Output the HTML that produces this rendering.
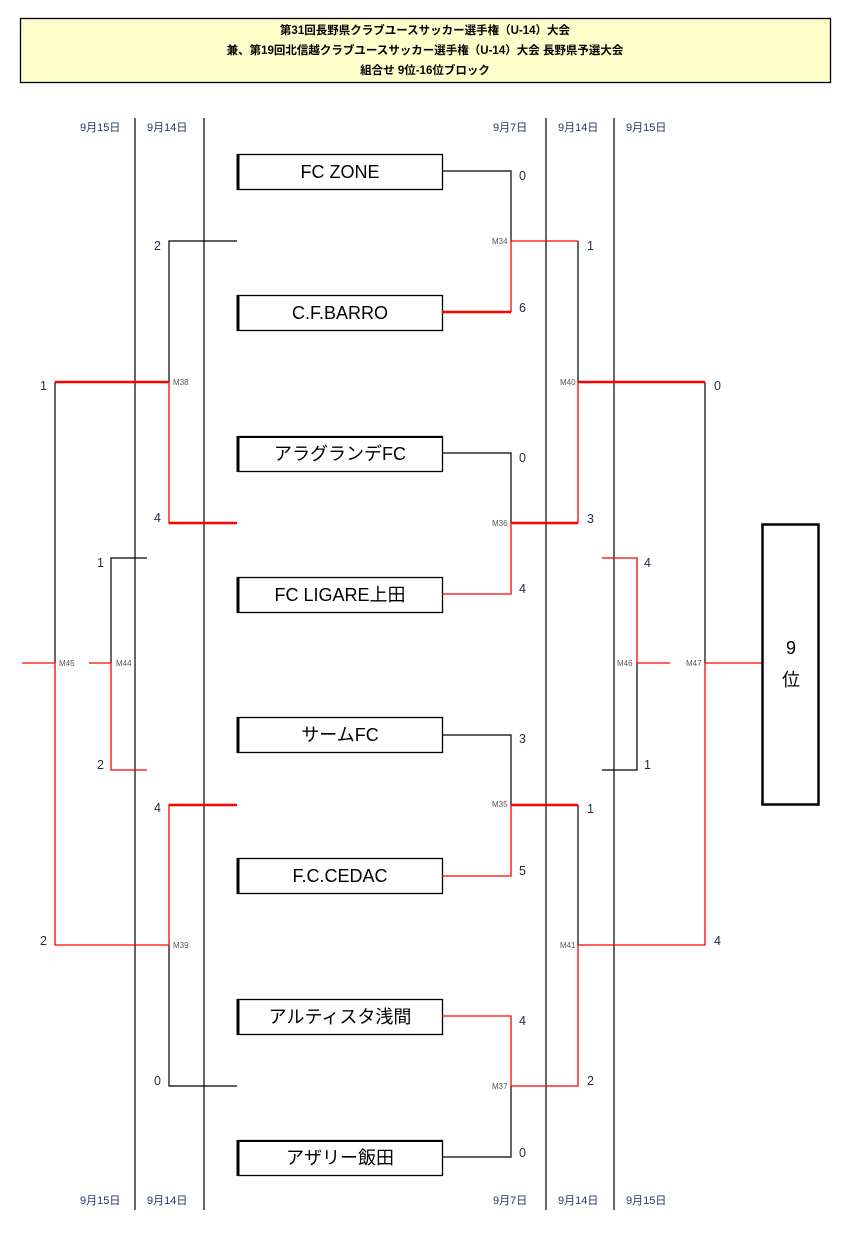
<!DOCTYPE html>
<html><head><meta charset="utf-8">
<style>
html,body{margin:0;padding:0;background:#fff;}
svg{display:block;}
text{font-family:"Liberation Sans","Noto Sans CJK JP",sans-serif;}
.h{font-size:11.5px;font-weight:bold;fill:#000;}
.d{font-size:11px;fill:#1f3864;}
.s{font-size:12.5px;fill:#1f2a44;}
.m{font-size:8px;fill:#555;}
.t{font-size:18px;fill:#000;}
</style></head><body>
<svg width="853" height="1240" viewBox="0 0 853 1240" xmlns="http://www.w3.org/2000/svg">
<rect x="20.5" y="18.5" width="810" height="64" fill="#ffffcc" stroke="#000" stroke-width="1.3"/>
<text class="h" x="425" y="34" text-anchor="middle">第31回長野県クラブユースサッカー選手権（U-14）大会</text>
<text class="h" x="425" y="54" text-anchor="middle">兼、第19回北信越クラブユースサッカー選手権（U-14）大会  長野県予選大会</text>
<text class="h" x="425" y="74" text-anchor="middle">組合せ  9位-16位ブロック</text>

<g class="d">
<text x="80" y="131">9月15日</text><text x="147" y="131">9月14日</text>
<text x="493" y="131">9月7日</text><text x="558" y="131">9月14日</text><text x="626" y="131">9月15日</text>
<text x="80" y="1204">9月15日</text><text x="147" y="1204">9月14日</text>
<text x="493" y="1204">9月7日</text><text x="558" y="1204">9月14日</text><text x="626" y="1204">9月15日</text>
</g>

<g stroke="#000" stroke-width="1.2">
<line x1="135" y1="118" x2="135" y2="1210"/>
<line x1="204" y1="118" x2="204" y2="1210"/>
<line x1="546" y1="118" x2="546" y2="1210"/>
<line x1="614" y1="118" x2="614" y2="1210"/>
</g>

<!-- team boxes -->
<g fill="#fff" stroke="#000" stroke-width="1.3">
<rect x="237.5" y="154.5" width="205" height="35"/>
<rect x="237.5" y="295.5" width="205" height="35"/>
<rect x="237.5" y="436.5" width="205" height="35"/>
<rect x="237.5" y="577.5" width="205" height="35"/>
<rect x="237.5" y="717.5" width="205" height="35"/>
<rect x="237.5" y="858.5" width="205" height="35"/>
<rect x="237.5" y="999.5" width="205" height="35"/>
<rect x="237.5" y="1140.5" width="205" height="35"/>
</g>
<g stroke="#000" stroke-width="3">
<line x1="238" y1="154" x2="238" y2="190"/><line x1="238" y1="295" x2="238" y2="331"/>
<line x1="238" y1="436" x2="238" y2="472"/><line x1="238" y1="577" x2="238" y2="613"/>
<line x1="238" y1="717" x2="238" y2="753"/><line x1="238" y1="858" x2="238" y2="894"/>
<line x1="238" y1="999" x2="238" y2="1035"/><line x1="238" y1="1140" x2="238" y2="1176"/>
<line x1="237" y1="437" x2="443" y2="437" stroke-width="2"/>
<line x1="237" y1="1141" x2="443" y2="1141" stroke-width="2"/>
</g>
<g class="t" text-anchor="middle">
<text x="340" y="178">FC ZONE</text>
<text x="340" y="319">C.F.BARRO</text>
<text x="340" y="460">アラグランデFC</text>
<text x="340" y="601">FC LIGARE上田</text>
<text x="340" y="741">サームFC</text>
<text x="340" y="882">F.C.CEDAC</text>
<text x="340" y="1023">アルティスタ浅間</text>
<text x="340" y="1164">アザリー飯田</text>
</g>

<!-- black lines -->
<g fill="none" stroke="#000" stroke-width="1.2">
<polyline points="442,171 511,171 511,241"/>
<polyline points="442,453 511,453 511,523"/>
<polyline points="442,735 511,735 511,805"/>
<polyline points="442,1157 511,1157 511,1086"/>
<polyline points="578,241 578,382"/>
<polyline points="578,805 578,945"/>
<polyline points="705,382 705,663"/>
<polyline points="237,241 169,241 169,382"/>
<polyline points="237,1086 169,1086 169,945"/>
<polyline points="55,382 55,663"/>
<polyline points="147,558 111,558 111,663"/>
<polyline points="602,770 637,770 637,663"/>
</g>
<!-- red lines -->
<g fill="none" stroke="#f00" stroke-width="1.3">
<polyline points="511,241 578,241"/>
<polyline points="442,312 511,312" stroke-width="2.5"/>
<polyline points="511,312 511,241"/>
<polyline points="442,594 511,594 511,523"/>
<polyline points="511,523 578,523" stroke-width="2.5"/>
<polyline points="578,523 578,382"/>
<polyline points="578,382 705,382" stroke-width="2.5"/>
<polyline points="442,876 511,876 511,805"/>
<polyline points="511,805 578,805" stroke-width="2.5"/>
<polyline points="442,1016 511,1016 511,1086 578,1086 578,945 705,945 705,663 762,663"/>
<polyline points="55,382 169,382" stroke-width="2.5"/>
<polyline points="237,523 169,523 169,382" />
<line x1="169" y1="523" x2="237" y2="523" stroke-width="2.5"/>
<polyline points="237,805 169,805 169,945 55,945 55,663 22,663"/>
<line x1="169" y1="805" x2="237" y2="805" stroke-width="2.5"/>
<polyline points="147,770 111,770 111,663 89,663"/>
<polyline points="602,558 637,558 637,663 670,663"/>
</g>

<!-- 9位 box -->
<rect x="762.5" y="524.5" width="56" height="280" fill="#fff" stroke="#000" stroke-width="2.5"/>
<text class="t" x="791" y="654" text-anchor="middle">9</text>
<text class="t" x="791" y="686" text-anchor="middle">位</text>

<!-- scores -->
<g class="s">
<text x="519" y="180">0</text><text x="519" y="312">6</text>
<text x="519" y="462">0</text><text x="519" y="593">4</text>
<text x="519" y="743">3</text><text x="519" y="875">5</text>
<text x="519" y="1025">4</text><text x="519" y="1157">0</text>
<text x="587" y="250">1</text><text x="587" y="523">3</text>
<text x="587" y="813">1</text><text x="587" y="1085">2</text>
<text x="714" y="390">0</text><text x="714" y="945">4</text>
<text x="644" y="567">4</text><text x="644" y="769">1</text>
<text x="154" y="250">2</text><text x="154" y="522">4</text>
<text x="154" y="812">4</text><text x="154" y="1085">0</text>
<text x="40" y="390">1</text><text x="40" y="945">2</text>
<text x="97" y="567">1</text><text x="97" y="769">2</text>
</g>
<!-- match labels -->
<g class="m">
<text x="492" y="244">M34</text><text x="492" y="526">M36</text>
<text x="492" y="807">M35</text><text x="492" y="1089">M37</text>
<text x="560" y="385">M40</text><text x="560" y="948">M41</text>
<text x="617" y="666">M46</text><text x="686" y="666">M47</text>
<text x="173" y="385">M38</text><text x="173" y="948">M39</text>
<text x="59" y="666">M45</text><text x="116" y="666">M44</text>
</g>
</svg>
</body></html>
